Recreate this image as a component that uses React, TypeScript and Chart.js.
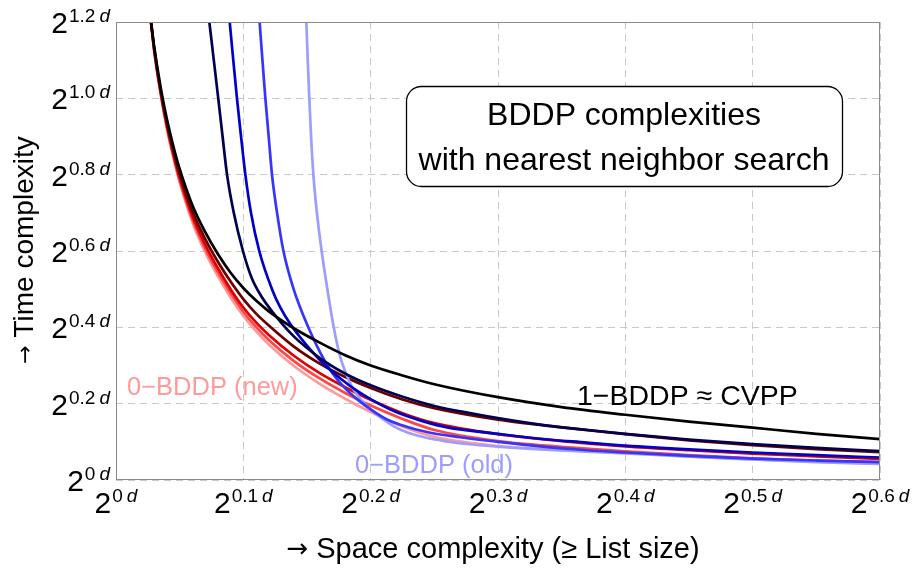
import React, { useEffect, useRef } from "react";
import { Chart, registerables } from "chart.js";

Chart.register(...registerables);

const FONT = '"Liberation Sans", Arial, Helvetica, sans-serif';
const ARROW_FONT = '"DejaVu Sans", sans-serif';

// Axis ticks (exponent of 2, in units of d)
const X_TICKS = [0, 0.1, 0.2, 0.3, 0.4, 0.5, 0.6];
const X_TICK_EXP = ["0", "0.1", "0.2", "0.3", "0.4", "0.5", "0.6"];
const Y_TICKS = [0, 0.2, 0.4, 0.6, 0.8, 1.0, 1.2];
const Y_TICK_EXP = ["0", "0.2", "0.4", "0.6", "0.8", "1.0", "1.2"];

// space exponents shared by 1-BDDP and the new (red) family
const NEW_FAMILY_X = [0.0275, 0.03, 0.035, 0.04, 0.045, 0.05, 0.06, 0.07, 0.08, 0.09, 0.1, 0.11, 0.12, 0.14, 0.16, 0.18, 0.2, 0.225, 0.25, 0.3, 0.35, 0.4, 0.45, 0.5, 0.55, 0.6];

// 1-BDDP ≈ CVPP (black)
const CVPP_Y = [1.2, 1.135, 1.03, 0.945, 0.875, 0.815, 0.72, 0.65, 0.592, 0.543, 0.503, 0.47, 0.442, 0.397, 0.36, 0.327, 0.3, 0.274, 0.251, 0.217, 0.191, 0.171, 0.153, 0.137, 0.121, 0.107];

// new BDDP family (red shades, dark → light = 0-BDDP new)
const MAROON_Y = [1.2, 1.13, 1.022, 0.935, 0.863, 0.802, 0.704, 0.632, 0.572, 0.52, 0.474, 0.436, 0.405, 0.349, 0.305, 0.27, 0.241, 0.211, 0.188, 0.158, 0.138, 0.12, 0.104, 0.091, 0.081, 0.073];
const RED_Y = [1.2, 1.128, 1.018, 0.928, 0.855, 0.792, 0.692, 0.617, 0.555, 0.5, 0.452, 0.413, 0.38, 0.325, 0.28, 0.243, 0.21, 0.175, 0.149, 0.12, 0.102, 0.088, 0.078, 0.069, 0.062, 0.055];
const LIGHTRED_Y = [1.2, 1.126, 1.015, 0.924, 0.85, 0.786, 0.684, 0.607, 0.545, 0.49, 0.441, 0.401, 0.367, 0.311, 0.266, 0.228, 0.195, 0.16, 0.131, 0.102, 0.087, 0.075, 0.065, 0.057, 0.051, 0.047];
const NEW_Y = [1.2, 1.124, 1.012, 0.92, 0.845, 0.78, 0.676, 0.597, 0.534, 0.478, 0.43, 0.39, 0.355, 0.298, 0.252, 0.213, 0.178, 0.14, 0.113, 0.089, 0.079, 0.071, 0.062, 0.054, 0.048, 0.043];

// old BDDP family (blue shades, dark → light = 0-BDDP old)
const NAVY_X = [0.0733, 0.0768, 0.0803, 0.0837, 0.0872, 0.0925, 0.0997, 0.1065, 0.114, 0.1225, 0.131, 0.14, 0.15, 0.165, 0.182, 0.2, 0.2233, 0.25, 0.28, 0.3, 0.333, 0.37, 0.4, 0.45, 0.5, 0.55, 0.6];
const NAVY_Y = [1.2, 1.1, 1.0, 0.9, 0.8, 0.7, 0.6, 0.53, 0.482, 0.442, 0.407, 0.375, 0.346, 0.308, 0.275, 0.248, 0.22, 0.194, 0.174, 0.162, 0.145, 0.131, 0.121, 0.106, 0.094, 0.084, 0.076];
const BLUE_X = [0.0893, 0.0921, 0.095, 0.0982, 0.1016, 0.106, 0.1125, 0.1225, 0.129, 0.137, 0.148, 0.162, 0.177, 0.19, 0.203, 0.22, 0.24, 0.26, 0.3, 0.333, 0.37, 0.4, 0.45, 0.5, 0.55, 0.6];
const BLUE_Y = [1.2, 1.1, 1.0, 0.9, 0.8, 0.7, 0.6, 0.5, 0.452, 0.408, 0.36, 0.308, 0.264, 0.232, 0.206, 0.178, 0.155, 0.138, 0.121, 0.108, 0.098, 0.09, 0.08, 0.072, 0.065, 0.059];
const BRIGHT_X = [0.1128, 0.115, 0.1173, 0.1199, 0.1225, 0.1265, 0.1315, 0.1395, 0.151, 0.161, 0.17, 0.18, 0.19, 0.2, 0.212, 0.2233, 0.245, 0.27, 0.3, 0.333, 0.37, 0.4, 0.45, 0.5, 0.55, 0.6];
const BRIGHT_Y = [1.2, 1.1, 1.0, 0.9, 0.8, 0.7, 0.6, 0.5, 0.4, 0.33, 0.28, 0.24, 0.21, 0.185, 0.16, 0.145, 0.125, 0.112, 0.1, 0.088, 0.078, 0.072, 0.063, 0.056, 0.051, 0.047];
const OLD_X = [0.1495, 0.1506, 0.1518, 0.1532, 0.155, 0.1578, 0.1615, 0.166, 0.171, 0.1755, 0.1805, 0.186, 0.1925, 0.2, 0.2095, 0.2185, 0.2285, 0.242, 0.258, 0.28, 0.305, 0.345, 0.4, 0.45, 0.5, 0.55, 0.6];
const OLD_Y = [1.2, 1.1, 1.0, 0.9, 0.8, 0.7, 0.6, 0.5, 0.4, 0.33, 0.28, 0.24, 0.21, 0.185, 0.16, 0.14, 0.125, 0.112, 0.102, 0.093, 0.086, 0.078, 0.07, 0.061, 0.054, 0.047, 0.042];

const SERIES = [
  { label: "0-BDDP (new)", xs: NEW_FAMILY_X, ys: NEW_Y, color: "#ff9a9a", order: 9 },
  { label: "new 2", xs: NEW_FAMILY_X, ys: LIGHTRED_Y, color: "#ff4545", order: 8 },
  { label: "new 3", xs: NEW_FAMILY_X, ys: RED_Y, color: "#dd0000", order: 7 },
  { label: "new 4", xs: NEW_FAMILY_X, ys: MAROON_Y, color: "#6a0000", order: 6 },
  { label: "0-BDDP (old)", xs: OLD_X, ys: OLD_Y, color: "#9d9dff", order: 5 },
  { label: "old 2", xs: BRIGHT_X, ys: BRIGHT_Y, color: "#3535ff", order: 4 },
  { label: "old 3", xs: BLUE_X, ys: BLUE_Y, color: "#0000c8", order: 3 },
  { label: "old 4", xs: NAVY_X, ys: NAVY_Y, color: "#00004f", order: 2 },
  { label: "1-BDDP ≈ CVPP", xs: NEW_FAMILY_X, ys: CVPP_Y, color: "#000000", order: 1 },
];

function drawPow(ctx: CanvasRenderingContext2D, exp: string, x: number, baseline: number, align: "center" | "right") {
  const base = `30px ${FONT}`;
  const sup = `19px ${FONT}`;
  const supIt = `italic 19px ${FONT}`;
  ctx.font = base;
  const w2 = ctx.measureText("2").width;
  ctx.font = sup;
  const wE = ctx.measureText(exp).width;
  ctx.font = supIt;
  const wD = ctx.measureText("d").width;
  const gap1 = 1;
  const gap2 = 4;
  const total = w2 + gap1 + wE + gap2 + wD;
  let sx = align === "center" ? x - total / 2 : x - total;
  ctx.textAlign = "left";
  ctx.textBaseline = "alphabetic";
  ctx.fillStyle = "#000";
  ctx.font = base;
  ctx.fillText("2", sx, baseline);
  sx += w2 + gap1;
  ctx.font = sup;
  ctx.fillText(exp, sx, baseline - 11);
  sx += wE + gap2;
  ctx.font = supIt;
  ctx.fillText("d", sx, baseline - 11);
}

// draws "→ text" centred on (cx, baseline) with a larger arrow glyph
function drawArrowTitle(ctx: CanvasRenderingContext2D, text: string, cx: number, baseline: number, size: number, arrowSize: number) {
  ctx.textAlign = "left";
  ctx.textBaseline = "alphabetic";
  ctx.font = `${arrowSize}px ${ARROW_FONT}`;
  const wa = ctx.measureText("→").width;
  ctx.font = `${size}px ${FONT}`;
  const ws = ctx.measureText(" ").width;
  const wt = ctx.measureText(text).width;
  let sx = cx - (wa + ws + wt) / 2;
  ctx.font = `${arrowSize}px ${ARROW_FONT}`;
  ctx.fillText("→", sx, baseline - size * 0.02);
  sx += wa + ws;
  ctx.font = `${size}px ${FONT}`;
  ctx.fillText(text, sx, baseline);
}

const overlay = {
  id: "overlay",
  afterDatasetsDraw(chart: any) {
    const { ctx, chartArea: a, scales } = chart;
    const xs = scales.x;
    const ys = scales.y;
    ctx.save();
    // frame
    ctx.strokeStyle = "#8a8a8a";
    ctx.lineWidth = 1;
    ctx.setLineDash([]);
    ctx.strokeRect(Math.round(a.left) + 0.5, Math.round(a.top) + 0.5, Math.round(a.right - a.left) - 1, Math.round(a.bottom - a.top) - 1);

    // tick labels
    X_TICKS.forEach((v, i) => drawPow(ctx, X_TICK_EXP[i], xs.getPixelForValue(v), 513, "center"));
    Y_TICKS.forEach((v, i) => drawPow(ctx, Y_TICK_EXP[i], 110, ys.getPixelForValue(v) + 11, "right"));

    // axis titles
    ctx.fillStyle = "#000";
    drawArrowTitle(ctx, "Space complexity (≥ List size)", 493, 558, 29, 26);
    ctx.save();
    ctx.translate(33, 250);
    ctx.rotate(-Math.PI / 2);
    drawArrowTitle(ctx, "Time complexity", 0, 0, 28, 22);
    ctx.restore();

    // in-plot labels
    ctx.textAlign = "left";
    ctx.font = `25.5px ${FONT}`;
    ctx.fillStyle = "#ff9a9a";
    ctx.fillText("0−BDDP (new)", 127, 395);
    ctx.fillStyle = "#9d9dff";
    ctx.fillText("0−BDDP (old)", 355, 473);
    ctx.fillStyle = "#000";
    ctx.font = `28.5px ${FONT}`;
    ctx.fillText("1−BDDP ≈ CVPP", 577, 405);

    // title box
    const bx = 406, by = 86, bw = 436, bh = 100, r = 15;
    ctx.beginPath();
    ctx.roundRect(bx + 0.5, by + 0.5, bw, bh, r);
    ctx.fillStyle = "#fff";
    ctx.fill();
    ctx.strokeStyle = "#000";
    ctx.lineWidth = 1.3;
    ctx.stroke();
    ctx.fillStyle = "#000";
    ctx.textAlign = "center";
    ctx.font = `32px ${FONT}`;
    ctx.fillText("BDDP complexities", bx + bw / 2, 125);
    ctx.fillText("with nearest neighbor search", bx + bw / 2, 170);
    ctx.restore();
  },
};

export default function App() {
  const ref = useRef<HTMLCanvasElement | null>(null);
  useEffect(() => {
    document.body.style.margin = "0";
    const canvas = ref.current;
    if (!canvas) return;
    const chart = new Chart(canvas, {
      type: "scatter",
      data: {
        datasets: SERIES.map((s) => ({
          label: s.label,
          data: s.xs.map((x, i) => ({ x, y: s.ys[i] })),
          showLine: true,
          borderColor: s.color,
          backgroundColor: s.color,
          borderWidth: 2.7,
          pointRadius: 0,
          cubicInterpolationMode: "monotone" as const,
          order: s.order,
        })),
      },
      options: {
        animation: false,
        responsive: false,
        events: [],
        layout: { padding: { left: 116, right: 33, top: 22, bottom: 89 } },
        plugins: { legend: { display: false }, tooltip: { enabled: false } },
        scales: {
          x: {
            type: "linear",
            min: 0,
            max: 0.6,
            ticks: { display: false, stepSize: 0.1 },
            grid: { color: "#c8c8c8", lineWidth: 1, drawTicks: false },
            border: { display: false, dash: [7, 5] },
            afterFit: (s: any) => { s.height = 0; },
          },
          y: {
            type: "linear",
            min: 0,
            max: 1.2,
            ticks: { display: false, stepSize: 0.2 },
            grid: { color: "#c8c8c8", lineWidth: 1, drawTicks: false },
            border: { display: false, dash: [7, 5] },
            afterFit: (s: any) => { s.width = 0; },
          },
        },
      },
      plugins: [overlay],
    });
    return () => chart.destroy();
  }, []);
  return (
    <div style={{ width: 913, height: 569, background: "#fff" }}>
      <canvas ref={ref} width={913} height={569} style={{ display: "block" }} />
    </div>
  );
}
